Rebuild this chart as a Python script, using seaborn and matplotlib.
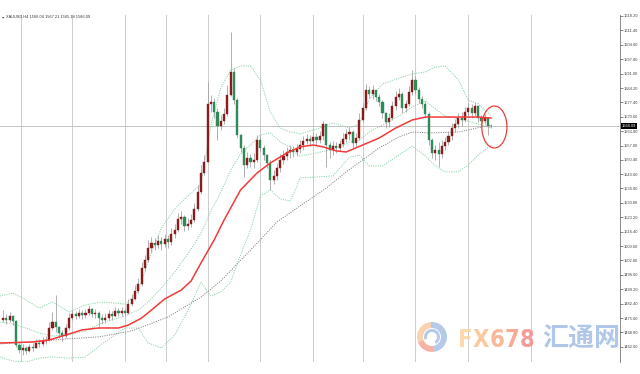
import numpy as np
import pandas as pd
import matplotlib
matplotlib.use("Agg")
import matplotlib.pyplot as plt
import matplotlib.transforms as mtrans
from matplotlib import font_manager as fm
from matplotlib.patches import Ellipse, Wedge
import seaborn as sns

# ---------------- data ----------------
symbol_title = "XAUUSD,H4 1566.04 1567.21 1565.18 1566.09"
first_open = 1474.5
bar_close = [1475.6, 1474.7, 1476.6, 1474.2, 1462.9, 1460.5, 1461.5, 1460.0, 1461.9, 1461.5,
             1463.8, 1463.4, 1464.8, 1465.2, 1470.9, 1473.7, 1471.4, 1468.5, 1467.1, 1470.9,
             1475.6, 1477.5, 1476.6, 1478.0, 1477.0, 1478.0, 1479.9, 1477.5, 1478.0, 1475.6,
             1474.7, 1475.6, 1477.5, 1476.6, 1478.9, 1478.0, 1478.9, 1478.0, 1482.2, 1484.6,
             1488.4, 1491.7, 1499.2, 1503.0, 1508.7, 1511.0, 1510.1, 1512.0, 1510.6, 1512.9,
             1511.5, 1515.3, 1517.2, 1522.4, 1523.3, 1519.1, 1520.0, 1521.9, 1527.1, 1535.1,
             1544.1, 1549.3, 1576.7, 1577.6, 1572.9, 1566.3, 1568.6, 1571.9, 1580.9, 1591.8,
             1578.5, 1562.0, 1555.9, 1547.9, 1551.2, 1549.3, 1550.2, 1559.7, 1555.9, 1552.6,
             1548.8, 1540.8, 1542.7, 1546.4, 1550.2, 1552.1, 1554.0, 1554.9, 1554.0, 1555.4,
             1557.3, 1559.2, 1560.1, 1559.2, 1561.1, 1559.7, 1561.5, 1567.2, 1557.3, 1554.9,
             1556.8, 1555.9, 1557.8, 1560.1, 1562.5, 1563.4, 1558.2, 1560.6, 1569.1, 1574.8,
             1583.3, 1581.4, 1583.3, 1580.0, 1577.6, 1572.4, 1568.2, 1570.0, 1575.7, 1580.0,
             1581.4, 1574.8, 1576.7, 1582.3, 1588.0, 1583.3, 1579.0, 1576.7, 1571.9, 1559.7,
             1553.5, 1554.9, 1553.1, 1556.8, 1558.7, 1561.5, 1565.3, 1567.2, 1570.0, 1569.1,
             1572.9, 1574.8, 1572.4, 1575.7, 1570.0, 1568.6, 1570.0, 1566.04, 1566.09]
bar_high = [1479.4, 1477.5, 1478.5, 1477.0, 1474.7, 1463.8, 1463.4, 1462.4, 1463.4, 1463.8,
            1465.7, 1465.7, 1466.7, 1467.1, 1473.7, 1478.5, 1486.5, 1471.9, 1470.0, 1472.8,
            1478.0, 1479.4, 1478.9, 1479.9, 1479.4, 1479.9, 1481.8, 1480.3, 1479.9, 1478.9,
            1477.5, 1478.0, 1479.4, 1478.9, 1480.8, 1480.3, 1480.8, 1479.9, 1484.6, 1487.0,
            1491.2, 1494.5, 1502.1, 1505.4, 1512.5, 1513.9, 1513.4, 1514.8, 1513.9, 1515.3,
            1514.8, 1518.1, 1520.0, 1525.2, 1526.1, 1524.3, 1522.8, 1524.7, 1529.9, 1538.4,
            1547.9, 1552.6, 1587.0, 1580.9, 1579.5, 1574.8, 1571.5, 1574.8, 1585.6, 1610.6,
            1593.7, 1579.5, 1562.5, 1557.3, 1554.0, 1553.1, 1553.5, 1562.0, 1561.5, 1557.3,
            1553.1, 1550.2, 1545.5, 1548.8, 1553.1, 1554.9, 1556.4, 1557.3, 1556.8, 1557.8,
            1559.7, 1561.5, 1562.5, 1562.0, 1563.4, 1563.0, 1563.9, 1568.6, 1567.2, 1558.7,
            1559.2, 1558.7, 1559.7, 1563.0, 1564.9, 1565.8, 1564.4, 1563.0, 1572.4, 1577.1,
            1586.1, 1585.2, 1585.6, 1583.3, 1581.4, 1578.5, 1572.9, 1572.4, 1578.1, 1582.8,
            1584.2, 1582.3, 1578.5, 1585.2, 1592.7, 1589.9, 1584.7, 1580.4, 1578.1, 1572.9,
            1560.6, 1557.3, 1558.7, 1559.7, 1561.1, 1563.9, 1567.7, 1569.6, 1572.4, 1572.9,
            1575.2, 1577.1, 1576.7, 1577.6, 1576.2, 1571.5, 1571.9, 1570.5, 1567.21]
bar_low = [1473.7, 1472.8, 1473.7, 1472.3, 1461.9, 1459.1, 1458.2, 1458.6, 1459.6, 1460.0,
           1461.5, 1461.9, 1462.4, 1463.4, 1464.8, 1470.0, 1469.0, 1466.2, 1464.8, 1466.2,
           1470.0, 1474.7, 1475.2, 1475.6, 1475.2, 1475.6, 1477.0, 1476.1, 1475.6, 1470.9,
           1472.8, 1473.3, 1474.7, 1474.7, 1476.1, 1476.6, 1476.6, 1476.6, 1477.5, 1481.3,
           1484.1, 1487.4, 1490.7, 1497.8, 1502.1, 1506.8, 1507.7, 1508.7, 1507.7, 1509.1,
           1508.7, 1510.1, 1513.4, 1516.2, 1520.0, 1516.7, 1517.2, 1518.6, 1520.9, 1526.1,
           1534.2, 1543.1, 1549.3, 1572.9, 1570.0, 1559.7, 1564.4, 1567.2, 1571.0, 1580.4,
           1576.7, 1560.6, 1554.0, 1542.2, 1546.4, 1546.9, 1546.4, 1549.3, 1554.0, 1550.2,
           1546.4, 1536.1, 1538.9, 1540.8, 1544.6, 1548.3, 1550.2, 1551.2, 1551.6, 1552.1,
           1553.5, 1554.9, 1557.8, 1556.8, 1558.2, 1557.3, 1558.2, 1559.7, 1546.9, 1551.2,
           1552.6, 1553.5, 1554.5, 1556.4, 1558.7, 1559.7, 1555.9, 1556.4, 1559.7, 1568.2,
           1573.8, 1579.5, 1579.0, 1578.1, 1575.7, 1570.0, 1565.3, 1565.8, 1569.1, 1573.8,
           1578.5, 1572.4, 1572.9, 1575.7, 1580.9, 1581.4, 1577.1, 1574.8, 1570.0, 1557.3,
           1551.2, 1550.2, 1546.9, 1551.2, 1554.9, 1557.3, 1559.7, 1563.4, 1565.3, 1566.3,
           1568.2, 1571.0, 1570.0, 1571.0, 1568.2, 1566.3, 1567.2, 1562.0, 1565.18]

# moving averages (bar position, value)
red_ma_x = [-1, 9, 14, 19, 24, 29, 35, 38, 42, 45, 49, 54, 57, 60, 64, 67, 72, 77, 81, 86,
            90, 94, 97, 101, 104, 109, 114, 119, 124, 128, 136, 144, 148]
red_ma_y = [1463.8, 1464.3, 1465.2, 1467.6, 1470.0, 1470.9, 1470.9, 1472.3, 1475.6, 1479.4,
            1484.6, 1488.8, 1493.1, 1501.6, 1512.5, 1521.9, 1536.1, 1544.1, 1548.8, 1553.5,
            1556.4, 1557.3, 1556.4, 1554.5, 1554.0, 1557.3, 1560.6, 1565.3, 1569.1, 1570.5,
            1570.5, 1570.5, 1570.0]
gray_ma_x = [-1, 9, 19, 29, 39, 50, 60, 66, 75, 83, 90, 98, 104, 114, 120, 124, 129, 138, 145, 148]
gray_ma_y = [1463.4, 1464.3, 1465.7, 1466.7, 1469.5, 1476.1, 1485.5, 1493.1, 1507.7, 1520.9,
             1528.5, 1537.0, 1544.6, 1555.9, 1561.1, 1563.4, 1563.0, 1563.4, 1565.8, 1566.7]

# Bollinger bands
bb_x = [-1, 3, 7, 11, 15, 20, 25, 30, 37, 41, 44, 48, 52, 56, 60, 63, 66, 69, 72, 75, 78,
        81, 84, 87, 89, 90, 95, 100, 105, 108, 111, 115, 120, 124, 128, 131, 134, 138, 141,
        144, 148]
bb_upper = [1486.0, 1487.4, 1484.1, 1480.3, 1483.2, 1478.5, 1481.8, 1483.2, 1482.2, 1487.9,
            1502.5, 1518.1, 1527.1, 1533.2, 1538.9, 1566.7, 1584.2, 1592.7, 1594.6, 1594.6,
            1588.0, 1572.9, 1565.3, 1563.4, 1563.0, 1562.5, 1564.8, 1567.7, 1565.3, 1567.2,
            1579.0, 1586.1, 1588.9, 1590.8, 1591.8, 1594.1, 1594.6, 1588.0, 1578.5, 1576.7,
            1571.0]
bb_middle = [1473.7, 1472.8, 1470.9, 1468.5, 1467.1, 1467.6, 1469.5, 1473.3, 1476.6, 1479.4,
             1483.2, 1489.8, 1497.3, 1505.8, 1515.7, 1526.1, 1535.1, 1545.5, 1553.0, 1557.3,
             1562.0, 1563.0, 1558.7, 1556.4, 1553.0, 1552.1, 1553.5, 1555.4, 1558.7, 1559.7,
             1563.4, 1566.7, 1571.0, 1575.2, 1578.1, 1574.3, 1571.0, 1569.6, 1568.6, 1567.2,
             1565.3]
bb_lower = [1457.2, 1455.3, 1454.8, 1456.7, 1457.2, 1456.7, 1457.2, 1463.4, 1470.9, 1470.9,
            1463.8, 1461.5, 1467.6, 1478.9, 1492.6, 1486.0, 1487.9, 1492.6, 1505.4, 1517.2,
            1533.2, 1536.1, 1531.8, 1530.9, 1537.5, 1541.7, 1542.2, 1542.7, 1551.6, 1552.6,
            1547.4, 1547.4, 1552.6, 1556.8, 1552.1, 1547.4, 1544.6, 1544.6, 1547.9, 1552.6,
            1557.3]

price_tick_labels = ["1618.20", "1611.40", "1604.60", "1597.80", "1591.00", "1584.20",
                     "1577.40", "1570.60", "1563.80", "1557.00", "1550.40", "1543.60",
                     "1536.80", "1530.00", "1523.20", "1516.40", "1509.60", "1502.80",
                     "1496.00", "1489.20", "1482.40", "1475.60", "1468.80", "1462.00"]
last_price = 1566.09
grid_bars = [5.5, 21, 37, 49.5, 62, 78, 94, 109, 125, 141, 160]
watermark_latin = ["F", "X", "6", "7", "8"]
watermark_cjk = "汇通网"

# ---------------- figure ----------------
sns.set_style("white")
plt.rcParams["font.family"] = ["Liberation Sans", "DejaVu Sans"]

W, H = 640, 374
fig = plt.figure(figsize=(W / 100, H / 100), dpi=100)
fig.patch.set_facecolor("white")
ax = fig.add_axes([0, 1 - 362 / H, 620 / W, (362 - 15) / H])
ax.set_facecolor("white")

n = len(bar_close)
idx = np.arange(n)
close = np.array(bar_close)
opens = np.concatenate([[first_open], close[:-1]])
df = pd.DataFrame({"bar": idx, "open": opens, "close": close,
                   "high": bar_high, "low": bar_low})

for g in grid_bars:
    ax.axvline(g, color="#8c8c8c", lw=0.6, ls=(0, (1.2, 1.2)), zorder=0)
ax.axhline(last_price, color="#c4c4c4", lw=0.7, zorder=0.5)

for band in (bb_upper, bb_middle, bb_lower):
    sns.lineplot(x=bb_x, y=band, ax=ax, color="#8fd3a9", lw=0.7, ls=(0, (1.2, 1.2)),
                 sort=False, zorder=1)
sns.lineplot(x=gray_ma_x, y=gray_ma_y, ax=ax, color="#8a8a8a", lw=0.7, ls=(0, (1.2, 1.2)),
             sort=False, zorder=1.5)

up = df["close"] >= df["open"]
ax.vlines(df["bar"], df["low"], df["high"], color="#a3a3a3", lw=0.6, zorder=2)
body_col = np.where(up, "#8b1c1c", "#2e8b57")
body_h = (df["close"] - df["open"]).where(lambda s: s.abs() > 0.25, 0.25)
ax.bar(df["bar"], body_h, bottom=df["open"], width=0.62, color=body_col,
       edgecolor=body_col, lw=0.3, zorder=3)

sns.lineplot(x=red_ma_x, y=red_ma_y, ax=ax, color="#f23a3a", lw=1.1, sort=False, zorder=4)

ax.add_patch(Ellipse((148.9, 1565.8), width=7.6, height=19.8, fill=False,
                     edgecolor="#e8403a", lw=0.9, zorder=5))

ax.set_xlim(-0.909, 186.97)
ax.set_ylim(1454.84, 1618.67)
ax.set_xlabel("")
ax.set_ylabel("")
ax.set_xticks([])
ax.yaxis.tick_right()
ax.set_yticks([float(t) for t in price_tick_labels])
ax.set_yticklabels(price_tick_labels, fontsize=2.9, color="#444444")
ax.tick_params(axis="y", length=2, width=0.5, color="#555555", pad=1.0)
for s in ("left", "top", "bottom"):
    ax.spines[s].set_visible(False)
ax.spines["right"].set_color("#777777")
ax.spines["right"].set_linewidth(0.6)
if ax.get_legend() is not None:
    ax.get_legend().remove()

tr = mtrans.blended_transform_factory(ax.transAxes, ax.transData)
ax.text(1.003, last_price, f"{last_price:.2f}", transform=tr, fontsize=2.9, color="white",
        va="center", ha="left", zorder=6, clip_on=False,
        bbox=dict(facecolor="black", edgecolor="none", pad=0.7))

fig.text(2.0 / W, 1 - 17 / H, "\u25be", fontsize=3.2, color="#555555", va="center",
         family="DejaVu Sans")
fig.text(6 / W, 1 - 17 / H, symbol_title, fontsize=2.8, color="#333333", va="center")

# ---------------- watermark ----------------
def px(x, y):
    return x / W, 1 - y / H

lx, ly = 432, 337
for (t1, t2, col) in [(95, 200, "#f7c595"), (200, 280, "#f29c88"), (280, 455, "#9db8e2")]:
    w = Wedge((lx, H - ly), 15, t1, t2, width=6, facecolor=col, edgecolor="none",
              alpha=0.75, transform=mtrans.IdentityTransform())
    fig.patches.append(w)
w2 = Wedge((lx, H - ly), 8, 300, 560, width=3, facecolor="#9db8e2", edgecolor="none",
           alpha=0.75, transform=mtrans.IdentityTransform())
fig.patches.append(w2)

narrow = None
for f in fm.fontManager.ttflist:
    nm = f.name.lower()
    if ("narrow" in nm or "condensed" in nm or str(f.stretch) in ("condensed", "semi-condensed")) \
            and str(f.weight) in ("bold", "700"):
        narrow = f.fname
        break
if narrow is not None:
    wm_prop = fm.FontProperties(fname=narrow)
else:
    wm_prop = fm.FontProperties(family="Liberation Sans", weight="bold")

renderer = fig.canvas.get_renderer()
fx_cols = ["#fbd39c", "#f9c08e", "#f7ad88", "#f59b85", "#f38c86"]
target_w = 75.0
fs = 20.0
tmp = fig.text(0, 0, "".join(watermark_latin), fontproperties=wm_prop, fontsize=fs)
wid = tmp.get_window_extent(renderer).width
tmp.remove()
fs = fs * target_w / wid
cur_x = 458.0
for ch, c in zip(watermark_latin, fx_cols):
    t = fig.text(*px(cur_x, 340), ch, fontproperties=wm_prop, fontsize=fs, color=c,
                 alpha=0.85, va="center", ha="left")
    cur_x += t.get_window_extent(renderer).width + 0.4

cjk_prop = fm.FontProperties(family=["Noto Sans CJK SC", "DejaVu Sans"], weight="bold")
tmp = fig.text(0, 0, watermark_cjk, fontproperties=cjk_prop, fontsize=20)
wid = tmp.get_window_extent(renderer).width
tmp.remove()
fig.text(*px(542, 339), watermark_cjk, fontproperties=cjk_prop, fontsize=20 * 78.0 / wid,
         color="#9db9e2", alpha=0.8, va="center", ha="left")

fig.savefig("out.png", dpi=100, facecolor="white")
